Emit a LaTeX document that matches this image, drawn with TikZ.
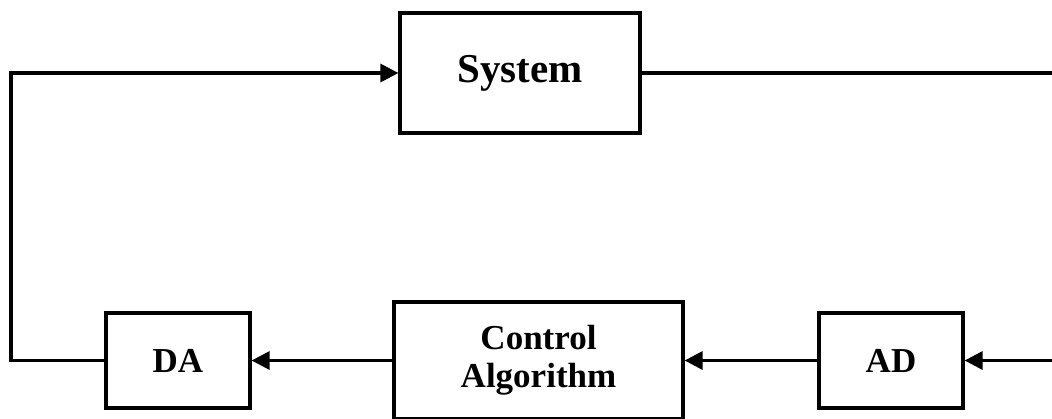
\documentclass[tikz,border=0pt]{standalone}
\usepackage{fontspec}
\setmainfont{Liberation Serif}
\usetikzlibrary{arrows.meta,positioning}

\begin{document}
\begin{tikzpicture}[x=0.5pt, y=-0.5pt, >={Triangle[length=9pt,width=9pt]}, line width=1.6pt,
  blk/.style={draw, rectangle, inner sep=0pt, align=center,
    font=\bfseries\fontsize{17.5}{19}\selectfont}]
  \useasboundingbox (0,0) rectangle (1052,418);
  \clip (0,0) rectangle (1052,418);

  % Define coordinates for nodes
  \node[blk, minimum width=120pt, minimum height=60pt,
    font=\bfseries\fontsize{20.5}{24}\selectfont] (sys) at (520,73) {System};
  \node[blk, minimum width=72pt, minimum height=47.5pt] (da) at (178,360.5) {DA};
  \node[blk, minimum width=144.5pt, minimum height=58.5pt] (ctrl) at (538.5,360.5) {Control\\Algorithm};
  \node[blk, minimum width=72pt, minimum height=47.5pt] (ad) at (891,360.5) {AD};
  \coordinate (inR) at (1052,360.5);
  \coordinate (outR) at (1052,73);
  \coordinate (lc) at (11,73);

  % Draw arrows between nodes
  \draw (sys) -- (outR);
  \draw[->] (inR) -- (ad);
  \draw[->] (ad) -- (ctrl);
  \draw[->] (ctrl) -- (da);
  \draw[->] (da.west) -| (lc) -- (sys);
\end{tikzpicture}
\end{document}
